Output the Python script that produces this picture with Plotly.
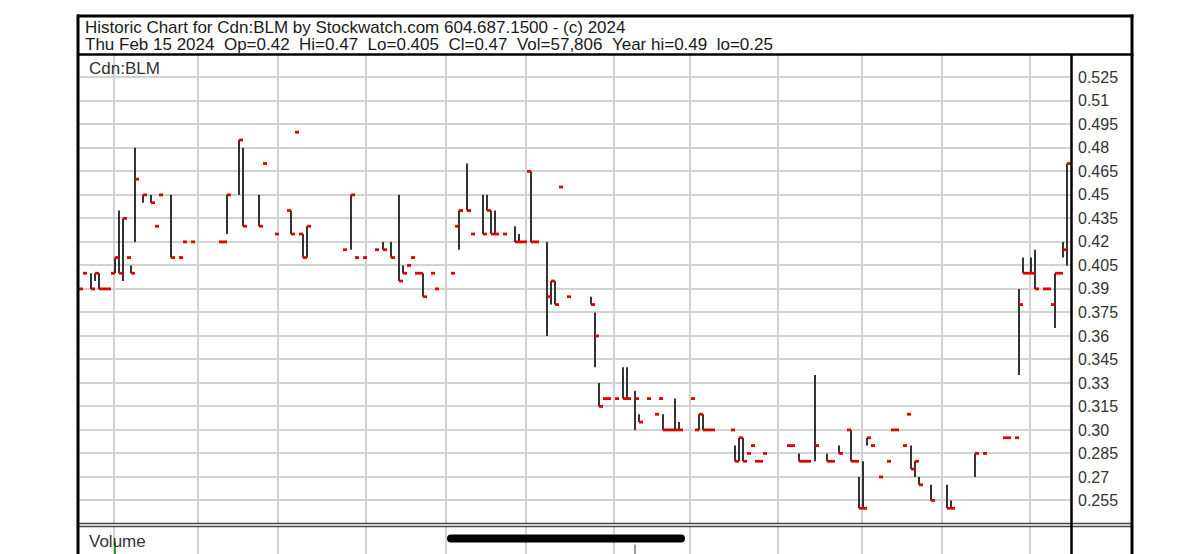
import plotly.graph_objects as go

W, H = 1200, 554

# ---- data (trading-day index: 0 = mid Feb 2023 ... 247 = Thu Feb 15 2024) ----
day = [0, 1, 3, 4, 5, 6, 7, 8, 9, 10, 11, 12, 13, 14, 16, 18, 19, 20, 23, 25, 26, 28,
       35, 36, 37, 40, 41, 45, 46, 49, 52, 53, 54, 55, 56, 57, 66, 68, 69, 71, 74, 76,
       78, 80, 81, 82, 83, 84, 85, 86, 88, 89, 93, 94, 95, 97, 98, 101, 102, 103, 104,
       106, 109, 110, 111, 112, 113, 114, 117, 118, 119, 120, 122, 128, 129, 130, 131,
       132, 134, 136, 137, 139, 140, 142, 144, 145, 146, 147, 148, 149, 150, 153, 154,
       155, 156, 157, 158, 163, 164, 165, 166, 167, 168, 169, 170, 171, 177, 178, 180,
       181, 182, 184, 187, 188, 190, 192, 193, 194, 195, 196, 197, 198, 200, 202, 203,
       204, 206, 207, 208, 209, 210, 213, 217, 218, 224, 226, 231, 232, 234, 235, 236,
       237, 238, 239, 241, 242, 243, 244, 245, 246, 247]
high = [0.39, 0.40, 0.40, 0.40, 0.40, 0.39, 0.39, 0.40, 0.41, 0.44, 0.435, 0.41, 0.405, 0.48,
        0.45, 0.45, 0.43, 0.45, 0.45, 0.41, 0.42, 0.42,
        0.42, 0.42, 0.45, 0.485, 0.48, 0.45, 0.47, 0.425, 0.44, 0.44, 0.49, 0.425, 0.425, 0.43,
        0.415, 0.45, 0.41, 0.41, 0.415, 0.42,
        0.42, 0.45, 0.405, 0.405, 0.41, 0.40, 0.40, 0.40, 0.40, 0.39, 0.40, 0.43, 0.44, 0.47,
        0.425, 0.45, 0.45, 0.44, 0.44,
        0.425, 0.43, 0.425, 0.42, 0.465, 0.465, 0.42, 0.42, 0.395, 0.395, 0.455, 0.385, 0.385,
        0.375, 0.33, 0.32,
        0.32, 0.32, 0.34, 0.34, 0.325, 0.31, 0.32, 0.31, 0.32, 0.31, 0.30, 0.30, 0.32, 0.305,
        0.32, 0.30,
        0.31, 0.31, 0.30, 0.30, 0.30, 0.29, 0.295, 0.295, 0.285, 0.29, 0.28, 0.28, 0.285,
        0.29, 0.29, 0.285,
        0.28, 0.28, 0.335, 0.285, 0.28, 0.29, 0.30, 0.30, 0.28, 0.27, 0.28, 0.295, 0.29,
        0.27, 0.28, 0.30,
        0.30, 0.29, 0.31, 0.29, 0.28, 0.27, 0.265, 0.265, 0.255, 0.285, 0.285, 0.295, 0.295,
        0.295, 0.39, 0.41,
        0.40, 0.41, 0.415, 0.39, 0.39, 0.38, 0.40, 0.40, 0.42, 0.47]
low = [0.39, 0.40, 0.39, 0.395, 0.39, 0.39, 0.39, 0.40, 0.40, 0.40, 0.395, 0.41, 0.40, 0.42,
       0.445, 0.445, 0.43, 0.45, 0.41, 0.41, 0.42, 0.42,
       0.42, 0.42, 0.425, 0.45, 0.43, 0.43, 0.47, 0.425, 0.44, 0.425, 0.49, 0.425, 0.41, 0.41,
       0.415, 0.415, 0.41, 0.41, 0.415, 0.415,
       0.41, 0.395, 0.40, 0.405, 0.41, 0.40, 0.40, 0.385, 0.40, 0.39, 0.40, 0.43, 0.415, 0.44,
       0.425, 0.425, 0.44, 0.425, 0.425,
       0.425, 0.42, 0.42, 0.42, 0.465, 0.42, 0.42, 0.36, 0.38, 0.38, 0.455, 0.385, 0.38,
       0.34, 0.315, 0.32,
       0.32, 0.32, 0.32, 0.32, 0.30, 0.305, 0.32, 0.31, 0.32, 0.30, 0.30, 0.30, 0.30, 0.30,
       0.32, 0.30,
       0.30, 0.30, 0.30, 0.30, 0.30, 0.28, 0.28, 0.28, 0.285, 0.29, 0.28, 0.28, 0.285,
       0.29, 0.29, 0.28,
       0.28, 0.28, 0.28, 0.28, 0.28, 0.285, 0.30, 0.28, 0.28, 0.25, 0.25, 0.29, 0.29,
       0.27, 0.28, 0.30,
       0.30, 0.29, 0.31, 0.275, 0.27, 0.265, 0.255, 0.25, 0.25, 0.27, 0.285, 0.295, 0.295,
       0.295, 0.335, 0.40,
       0.40, 0.40, 0.39, 0.39, 0.39, 0.38, 0.365, 0.40, 0.41, 0.405]
close = [0.39, 0.40, 0.39, 0.40, 0.39, 0.39, 0.39, 0.40, 0.41, 0.40, 0.435, 0.41, 0.40, 0.46,
         0.45, 0.445, 0.43, 0.45, 0.41, 0.41, 0.42, 0.42,
         0.42, 0.42, 0.45, 0.485, 0.43, 0.43, 0.47, 0.425, 0.44, 0.425, 0.49, 0.425, 0.41, 0.43,
         0.415, 0.45, 0.41, 0.41, 0.415, 0.415,
         0.41, 0.395, 0.40, 0.405, 0.41, 0.40, 0.40, 0.385, 0.40, 0.39, 0.40, 0.43, 0.44, 0.44,
         0.425, 0.425, 0.44, 0.425, 0.425,
         0.425, 0.42, 0.42, 0.42, 0.465, 0.42, 0.42, 0.385, 0.395, 0.38, 0.455, 0.385, 0.38,
         0.36, 0.315, 0.32,
         0.32, 0.32, 0.32, 0.32, 0.32, 0.305, 0.32, 0.31, 0.32, 0.30, 0.30, 0.30, 0.30, 0.30,
         0.32, 0.30,
         0.31, 0.30, 0.30, 0.30, 0.30, 0.28, 0.295, 0.28, 0.285, 0.29, 0.28, 0.28, 0.285,
         0.29, 0.29, 0.28,
         0.28, 0.28, 0.29, 0.28, 0.28, 0.285, 0.30, 0.28, 0.28, 0.25, 0.25, 0.295, 0.29,
         0.27, 0.28, 0.30,
         0.30, 0.29, 0.31, 0.275, 0.28, 0.265, 0.255, 0.25, 0.25, 0.285, 0.285, 0.295, 0.295,
         0.295, 0.38, 0.40,
         0.40, 0.40, 0.39, 0.39, 0.39, 0.38, 0.40, 0.40, 0.415, 0.47]

month_start_idx = [9, 30, 50, 72, 92, 112, 134, 153, 175, 196, 216, 238]

y_tick_vals = [0.525, 0.51, 0.495, 0.48, 0.465, 0.45, 0.435, 0.42, 0.405, 0.39,
               0.375, 0.36, 0.345, 0.33, 0.315, 0.30, 0.285, 0.27, 0.255]
y_tick_text = ["0.525", "0.51", "0.495", "0.48", "0.465", "0.45", "0.435", "0.42", "0.405",
               "0.39", "0.375", "0.36", "0.345", "0.33", "0.315", "0.30", "0.285", "0.27", "0.255"]

vol_day = [9, 139]
vol_value = [135000, 105000]
vol_color = ["#22a022", "#9a9a9a"]

title_line1 = "Historic Chart for Cdn:BLM by Stockwatch.com 604.687.1500 - (c) 2024"
title_line2 = ("Thu Feb 15 2024 \u00a0Op=0.42 \u00a0Hi=0.47 \u00a0Lo=0.405 \u00a0Cl=0.47"
               " \u00a0Vol=57,806 \u00a0Year hi=0.49 \u00a0lo=0.25")
symbol = "Cdn:BLM"

FONT = "Liberation Sans, Arial, sans-serif"


def fx(p):
    return p / W


def fy(p):
    return 1 - p / H


# ---- build segments ----
vx, vy = [], []
for d, h, l in zip(day, high, low):
    if h > l:
        vx += [d, d, None]
        vy += [l, h, None]
cx, cy = [], []
for d, c in zip(day, close):
    cx += [d, d + 1, None]
    cy += [c, c, None]

fig = go.Figure()
fig.add_trace(go.Scatter(x=vx, y=vy, mode="lines", line=dict(color="#1e1e1e", width=1.8),
                         hoverinfo="skip", xaxis="x", yaxis="y"))
fig.add_trace(go.Scatter(x=cx, y=cy, mode="lines", line=dict(color="#e00000", width=2.8),
                         hoverinfo="skip", xaxis="x", yaxis="y"))
fig.add_trace(go.Bar(x=vol_day, y=vol_value, marker=dict(color=vol_color, line=dict(width=0)),
                     width=0.5, xaxis="x2", yaxis="y2", hoverinfo="skip"))

grid_x = [m - 0.25 for m in month_start_idx]
xr = [-0.25, 248]
gridc = "#d2d2d2"

fig.update_layout(
    width=W, height=H, margin=dict(l=0, r=0, t=0, b=0),
    paper_bgcolor="white", plot_bgcolor="white", showlegend=False,
    xaxis=dict(domain=[fx(78), fx(1071)], range=xr, tickvals=grid_x, showticklabels=False,
               showgrid=True, gridcolor=gridc, gridwidth=2, zeroline=False, showline=False,
               ticks="", anchor="y"),
    yaxis=dict(domain=[fy(523), fy(54)], range=[0.2406, 0.5399], side="right",
               tickvals=y_tick_vals, ticktext=y_tick_text, ticks="",
               tickfont=dict(family=FONT, size=16, color="#333333"),
               ticklabelstandoff=6, showgrid=True, gridcolor=gridc, gridwidth=2,
               zeroline=False, showline=False, anchor="x"),
    xaxis2=dict(domain=[fx(78), fx(1071)], range=xr, tickvals=grid_x, showticklabels=False,
                showgrid=True, gridcolor=gridc, gridwidth=2, zeroline=False, showline=False,
                ticks="", anchor="y2"),
    yaxis2=dict(domain=[0, fy(527)], range=[0, 300000], showgrid=False, showticklabels=False,
                zeroline=False, showline=False, anchor="x2"),
)

shapes = []


def hline(y, x0, x1, w, color="black"):
    shapes.append(dict(type="line", xref="paper", yref="paper", x0=fx(x0), x1=fx(x1),
                       y0=fy(y), y1=fy(y), line=dict(color=color, width=w), layer="above"))


def vline(x, y0, y1, w, color="black"):
    shapes.append(dict(type="line", xref="paper", yref="paper", x0=fx(x), x1=fx(x),
                       y0=fy(y0), y1=fy(y1), line=dict(color=color, width=w), layer="above"))


hline(16, 77, 1133.5, 3)
hline(54.5, 77, 1133.5, 2.5)
hline(523.5, 77, 1133, 1.6, "#444444")
hline(526.5, 77, 1133, 1.6, "#444444")
vline(78, 14.5, 560, 3)
vline(1132, 14.5, 560, 3)
vline(1071.5, 54, 560, 2.5)

# scroll indicator overlay
x0, x1, y0, y1 = 447, 685, 534.5, 542.5
r = (y1 - y0) / 2
ym = (y0 + y1) / 2
pts = (f"M {fx(x0 + r)},{fy(y0)} L {fx(x1 - r)},{fy(y0)} Q {fx(x1)},{fy(y0)} {fx(x1)},{fy(ym)} "
       f"Q {fx(x1)},{fy(y1)} {fx(x1 - r)},{fy(y1)} L {fx(x0 + r)},{fy(y1)} "
       f"Q {fx(x0)},{fy(y1)} {fx(x0)},{fy(ym)} Q {fx(x0)},{fy(y0)} {fx(x0 + r)},{fy(y0)} Z")
shapes.append(dict(type="path", xref="paper", yref="paper", path=pts,
                   fillcolor="black", line=dict(width=0), layer="above"))

fig.update_layout(shapes=shapes)

ann = [
    dict(text=title_line1, x=fx(83), y=fy(27.5), xanchor="left", yanchor="middle",
         font=dict(family=FONT, size=17, color="#1a1a1a")),
    dict(text=title_line2, x=fx(83), y=fy(44), xanchor="left", yanchor="middle",
         font=dict(family=FONT, size=17, color="#1a1a1a")),
    dict(text=symbol, x=fx(87), y=fy(68.5), xanchor="left", yanchor="middle",
         font=dict(family=FONT, size=17, color="#333333")),
    dict(text="Volume", x=fx(87), y=fy(541.5), xanchor="left", yanchor="middle",
         font=dict(family=FONT, size=17, color="#333333")),
]
for a in ann:
    a.update(xref="paper", yref="paper", showarrow=False)
fig.update_layout(annotations=ann)

fig.write_html("out.html")
